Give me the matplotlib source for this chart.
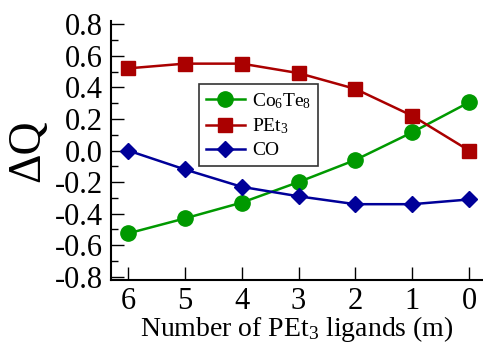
import matplotlib
matplotlib.use("Agg")
import matplotlib.pyplot as plt
from matplotlib.ticker import MultipleLocator

plt.rcParams['font.family'] = ['Liberation Serif', 'DejaVu Serif']
plt.rcParams['mathtext.fontset'] = 'custom'
plt.rcParams['mathtext.rm'] = 'Liberation Serif'
plt.rcParams['mathtext.it'] = 'Liberation Serif:italic'

m = [6, 5, 4, 3, 2, 1, 0]
co6te8 = [-0.525, -0.43, -0.33, -0.20, -0.06, 0.115, 0.305]
pet3 = [0.52, 0.55, 0.55, 0.49, 0.39, 0.22, 0.0]
co = [0.0, -0.12, -0.23, -0.29, -0.34, -0.34, -0.31]
labels = [r'Co$_\mathregular{6}$Te$_\mathregular{8}$', r'PEt$_\mathregular{3}$', 'CO']
xticklabels = ['6', '5', '4', '3', '2', '1', '0']

W, H = 483, 344
fig = plt.figure(figsize=(W / 100, H / 100), dpi=100)
ax = fig.add_axes([111 / W, (H - 280) / H, (W - 111) / W, (280 - 21) / H])

ax.plot(m, co6te8, color='#009900', marker='o', markersize=11, lw=1.8, label=labels[0])
ax.plot(m, pet3, color='#aa0000', marker='s', markersize=10, lw=1.8, label=labels[1])
ax.plot(m, co, color='#000099', marker='D', markersize=8.5, lw=1.8, label=labels[2])

ax.set_xlim(6.30, -0.246)
ax.set_ylim(-0.82, 0.82)
ax.set_xticks(m)
ax.set_xticklabels(xticklabels)
ax.yaxis.set_minor_locator(MultipleLocator(0.1))
ax.set_yticks([-0.8, -0.6, -0.4, -0.2, 0.0, 0.2, 0.4, 0.6, 0.8])
ax.set_yticklabels(['-0.8', '-0.6', '-0.4', '-0.2', '0.0', '0.2', '0.4', '0.6', '0.8'])

for s in ['top', 'right']:
    ax.spines[s].set_visible(False)
for s in ['left', 'bottom']:
    ax.spines[s].set_linewidth(1.5)

ax.tick_params(axis='both', which='major', direction='in', length=9.5, width=1.0,
               labelsize=22, pad=6)
ax.tick_params(axis='y', which='minor', direction='in', length=5, width=1.0)
ax.tick_params(axis='x', pad=5)

ax.set_xlabel(r'Number of PEt$_\mathregular{3}$ ligands (m)', fontsize=20, labelpad=-1.5)
ax.set_ylabel('ΔQ', fontsize=33, labelpad=4)

leg = fig.legend(loc='upper left', bbox_to_anchor=(199 / W, 1 - 84 / H), fontsize=14,
                 frameon=True, fancybox=False, edgecolor='black', handlelength=2.0,
                 borderpad=0.35, labelspacing=0.3, handletextpad=0.4, borderaxespad=0,
                 markerscale=1.0)
leg.get_frame().set_linewidth(1.2)

fig.savefig('out.png', dpi=100)
